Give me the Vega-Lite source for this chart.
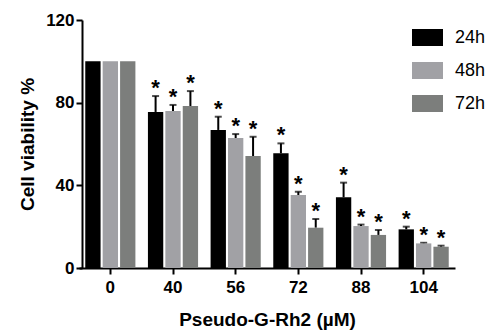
{
  "$schema": "https://vega.github.io/schema/vega-lite/v6.json",
  "width": 376,
  "height": 248,
  "autosize": {"type": "none"},
  "padding": {"left": 79, "top": 20, "right": 36, "bottom": 67},
  "background": "white",
  "config": {
    "view": {"stroke": null},
    "font": "Liberation Sans",
    "axis": {"grid": false, "domainColor": "black", "domainWidth": 2, "tickColor": "black", "tickWidth": 2, "labelColor": "black", "titleColor": "black", "labelFont": "Liberation Sans", "titleFont": "Liberation Sans", "labelFontWeight": "bold", "titleFontWeight": "bold"}
  },
  "data": {
    "values": [
      {"dose": 0, "time": "24h", "value": 100, "hi": null, "sig": ""},
      {"dose": 0, "time": "48h", "value": 100, "hi": null, "sig": ""},
      {"dose": 0, "time": "72h", "value": 100, "hi": null, "sig": ""},
      {"dose": 40, "time": "24h", "value": 75.5, "hi": 83.2, "sig": "*"},
      {"dose": 40, "time": "48h", "value": 76.0, "hi": 78.9, "sig": "*"},
      {"dose": 40, "time": "72h", "value": 78.4, "hi": 85.6, "sig": "*"},
      {"dose": 56, "time": "24h", "value": 66.8, "hi": 73.2, "sig": "*"},
      {"dose": 56, "time": "48h", "value": 62.9, "hi": 64.8, "sig": "*"},
      {"dose": 56, "time": "72h", "value": 54.2, "hi": 63.5, "sig": "*"},
      {"dose": 72, "time": "24h", "value": 55.5, "hi": 60.3, "sig": "*"},
      {"dose": 72, "time": "48h", "value": 35.3, "hi": 36.9, "sig": "*"},
      {"dose": 72, "time": "72h", "value": 19.5, "hi": 23.7, "sig": "*"},
      {"dose": 88, "time": "24h", "value": 34.2, "hi": 41.3, "sig": "*"},
      {"dose": 88, "time": "48h", "value": 20.3, "hi": 21.0, "sig": "*"},
      {"dose": 88, "time": "72h", "value": 16.0, "hi": 18.4, "sig": "*"},
      {"dose": 104, "time": "24h", "value": 18.7, "hi": 20.0, "sig": "*"},
      {"dose": 104, "time": "48h", "value": 11.9, "hi": 12.2, "sig": "*"},
      {"dose": 104, "time": "72h", "value": 10.3, "hi": 10.8, "sig": "*"}
    ]
  },
  "encoding": {
    "x": {
      "field": "dose", "type": "ordinal",
      "scale": {"paddingInner": 0.2, "paddingOuter": 0.1},
      "axis": {"title": "Pseudo-G-Rh2 (µM)", "labelAngle": 0, "labelFontSize": 17, "titleFontSize": 19, "tickSize": 6, "labelPadding": 5, "titlePadding": 15}
    },
    "xOffset": {"field": "time", "type": "nominal", "scale": {"paddingInner": 0.12, "paddingOuter": 0}}
  },
  "layer": [
    {
      "mark": {"type": "rule", "strokeWidth": 2, "color": "black"},
      "encoding": {
        "y": {"field": "value", "type": "quantitative"},
        "y2": {"field": "hi"}
      }
    },
    {
      "mark": {"type": "tick", "thickness": 2, "size": 7, "color": "black"},
      "encoding": {
        "y": {"field": "hi", "type": "quantitative"}
      }
    },
    {
      "mark": {"type": "bar"},
      "encoding": {
        "y": {
          "field": "value", "type": "quantitative",
          "scale": {"domain": [0, 120], "nice": false},
          "axis": {"title": "Cell viability %", "values": [0, 40, 80, 120], "labelFontSize": 17, "titleFontSize": 19, "tickSize": 6, "labelPadding": 2, "titlePadding": 8, "offset": -3}
        },
        "color": {
          "field": "time", "type": "nominal",
          "scale": {"domain": ["24h", "48h", "72h"], "range": ["#000000", "#a1a1a5", "#7c7e7c"]},
          "legend": {
            "title": null, "orient": "none", "legendX": 333, "legendY": 2, "padding": 0,
            "symbolType": "M-1,-0.55H1V0.55H-1Z", "symbolSize": 961, "symbolStrokeWidth": 0,
            "labelFontSize": 18, "labelFont": "Liberation Sans", "labelColor": "black", "labelOffset": 12, "rowPadding": 8
          }
        }
      }
    },
    {
      "mark": {"type": "text", "fontSize": 22, "fontWeight": "bold", "baseline": "alphabetic", "dy": -1, "color": "black", "font": "Liberation Sans"},
      "encoding": {
        "y": {"field": "hi", "type": "quantitative"},
        "text": {"field": "sig"}
      }
    }
  ]
}
